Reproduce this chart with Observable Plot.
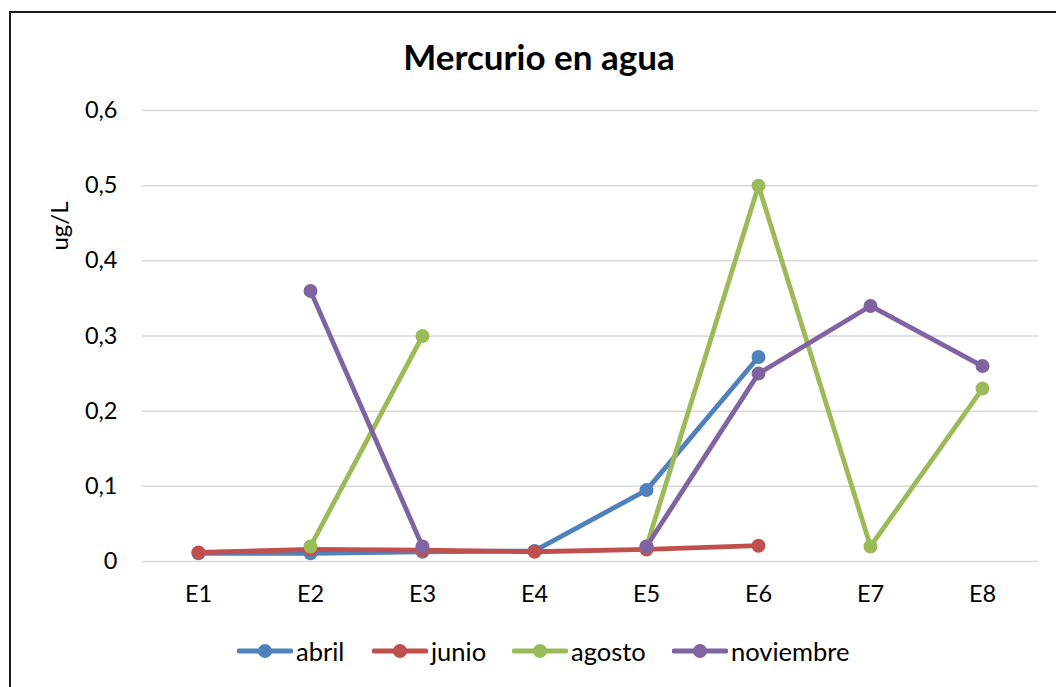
<!DOCTYPE html>
<html>
<head>
<meta charset="utf-8">
<script src="https://cdn.jsdelivr.net/npm/d3@7"></script>
<script src="https://cdn.jsdelivr.net/npm/@observablehq/plot@0.6"></script>
<style>
  html, body { margin: 0; padding: 0; background: #fff; }
  #wrap { position: relative; width: 1056px; height: 687px; overflow: hidden; background: #fff; font-family: Lato, "Open Sans", sans-serif; }
  #frame { position: absolute; left: 9px; top: 11px; width: 1100px; height: 720px; border-top: 2px solid #1a1a1a; border-left: 2px solid #1a1a1a; box-sizing: border-box; }
  #chart { position: absolute; left: 0; top: 0; }
  #title { position: absolute; left: 0; width: 1078px; top: 34px; text-align: center; font-weight: bold; font-size: 35px; line-height: 44px; color: #000; }
  #legend { position: absolute; top: 637px; left: 0; width: 1056px; height: 30px; }
  .item { position: absolute; top: 0; display: flex; align-items: center; font-size: 25.5px; line-height: 28px; color: #000; }
  .item svg { margin-right: 3px; }
</style>
</head>
<body>
<div id="wrap">
  <div id="frame"></div>
  <div id="chart"></div>
  <div id="title">Mercurio en agua</div>
  <div id="legend"></div>
</div>
<script>
const categories = ["E1", "E2", "E3", "E4", "E5", "E6", "E7", "E8"];
const seriesNames = ["abril", "junio", "agosto", "noviembre"];
const seriesColors = ["#4F81BD", "#C0504D", "#9BBB59", "#8064A2"];
const abril = [0.011, 0.011, 0.013, 0.014, 0.095, 0.272, null, null];
const junio = [0.012, 0.016, 0.015, 0.013, 0.016, 0.021, null, null];
const agosto = [null, 0.02, 0.30, null, 0.02, 0.50, 0.02, 0.23];
const noviembre = [null, 0.36, 0.02, null, 0.02, 0.25, 0.34, 0.26];
const yTicks = [0, 0.1, 0.2, 0.3, 0.4, 0.5, 0.6];
const yLabel = "ug/L";
const legendX = [237, 372, 512, 672];

const seriesValues = [abril, junio, agosto, noviembre];
const data = [];
seriesNames.forEach((s, i) => {
  categories.forEach((c, j) => {
    data.push({series: s, cat: c, value: seriesValues[i][j]});
  });
});

const marks = [
  Plot.ruleY(yTicks, {stroke: "#d9d9d9", strokeWidth: 1.5}),
  Plot.axisY({ticks: yTicks, tickSize: 0, tickPadding: 25, fontSize: 23.5, tickFormat: d => String(d).replace(".", ","), label: null}),
  Plot.axisX({tickSize: 0, tickPadding: 24, fontSize: 23.5, label: null}),
  Plot.text([yLabel], {frameAnchor: "left", textAnchor: "middle", lineAnchor: "middle", dx: -82, dy: -110, rotate: -90, fontSize: 24, text: d => d})
];
seriesNames.forEach((s, i) => {
  const sd = data.filter(d => d.series === s);
  marks.push(Plot.line(sd, {x: "cat", y: "value", stroke: seriesColors[i], strokeWidth: 4.8, strokeLinecap: "round"}));
  marks.push(Plot.dot(sd.filter(d => d.value != null), {x: "cat", y: "value", r: 7, fill: seriesColors[i], stroke: "none"}));
});

const chart = Plot.plot({
  width: 1056,
  height: 687,
  marginLeft: 142,
  marginRight: 18,
  marginTop: 110,
  marginBottom: 126,
  style: {fontFamily: "Lato, 'Open Sans', sans-serif", color: "#000", background: "transparent", overflow: "visible"},
  x: {type: "point", domain: categories, padding: 0.5, axis: null},
  y: {domain: [0, 0.6], axis: null},
  marks
});
document.getElementById("chart").appendChild(chart);

const legend = document.getElementById("legend");
seriesNames.forEach((s, i) => {
  const div = document.createElement("div");
  div.className = "item";
  div.style.left = legendX[i] + "px";
  div.innerHTML = `<svg width="56" height="28"><line x1="2" x2="54" y1="14" y2="14" stroke="${seriesColors[i]}" stroke-width="4.8" stroke-linecap="round"/><circle cx="28" cy="14" r="7" fill="${seriesColors[i]}"/></svg><span>${s}</span>`;
  legend.appendChild(div);
});
</script>
</body>
</html>
